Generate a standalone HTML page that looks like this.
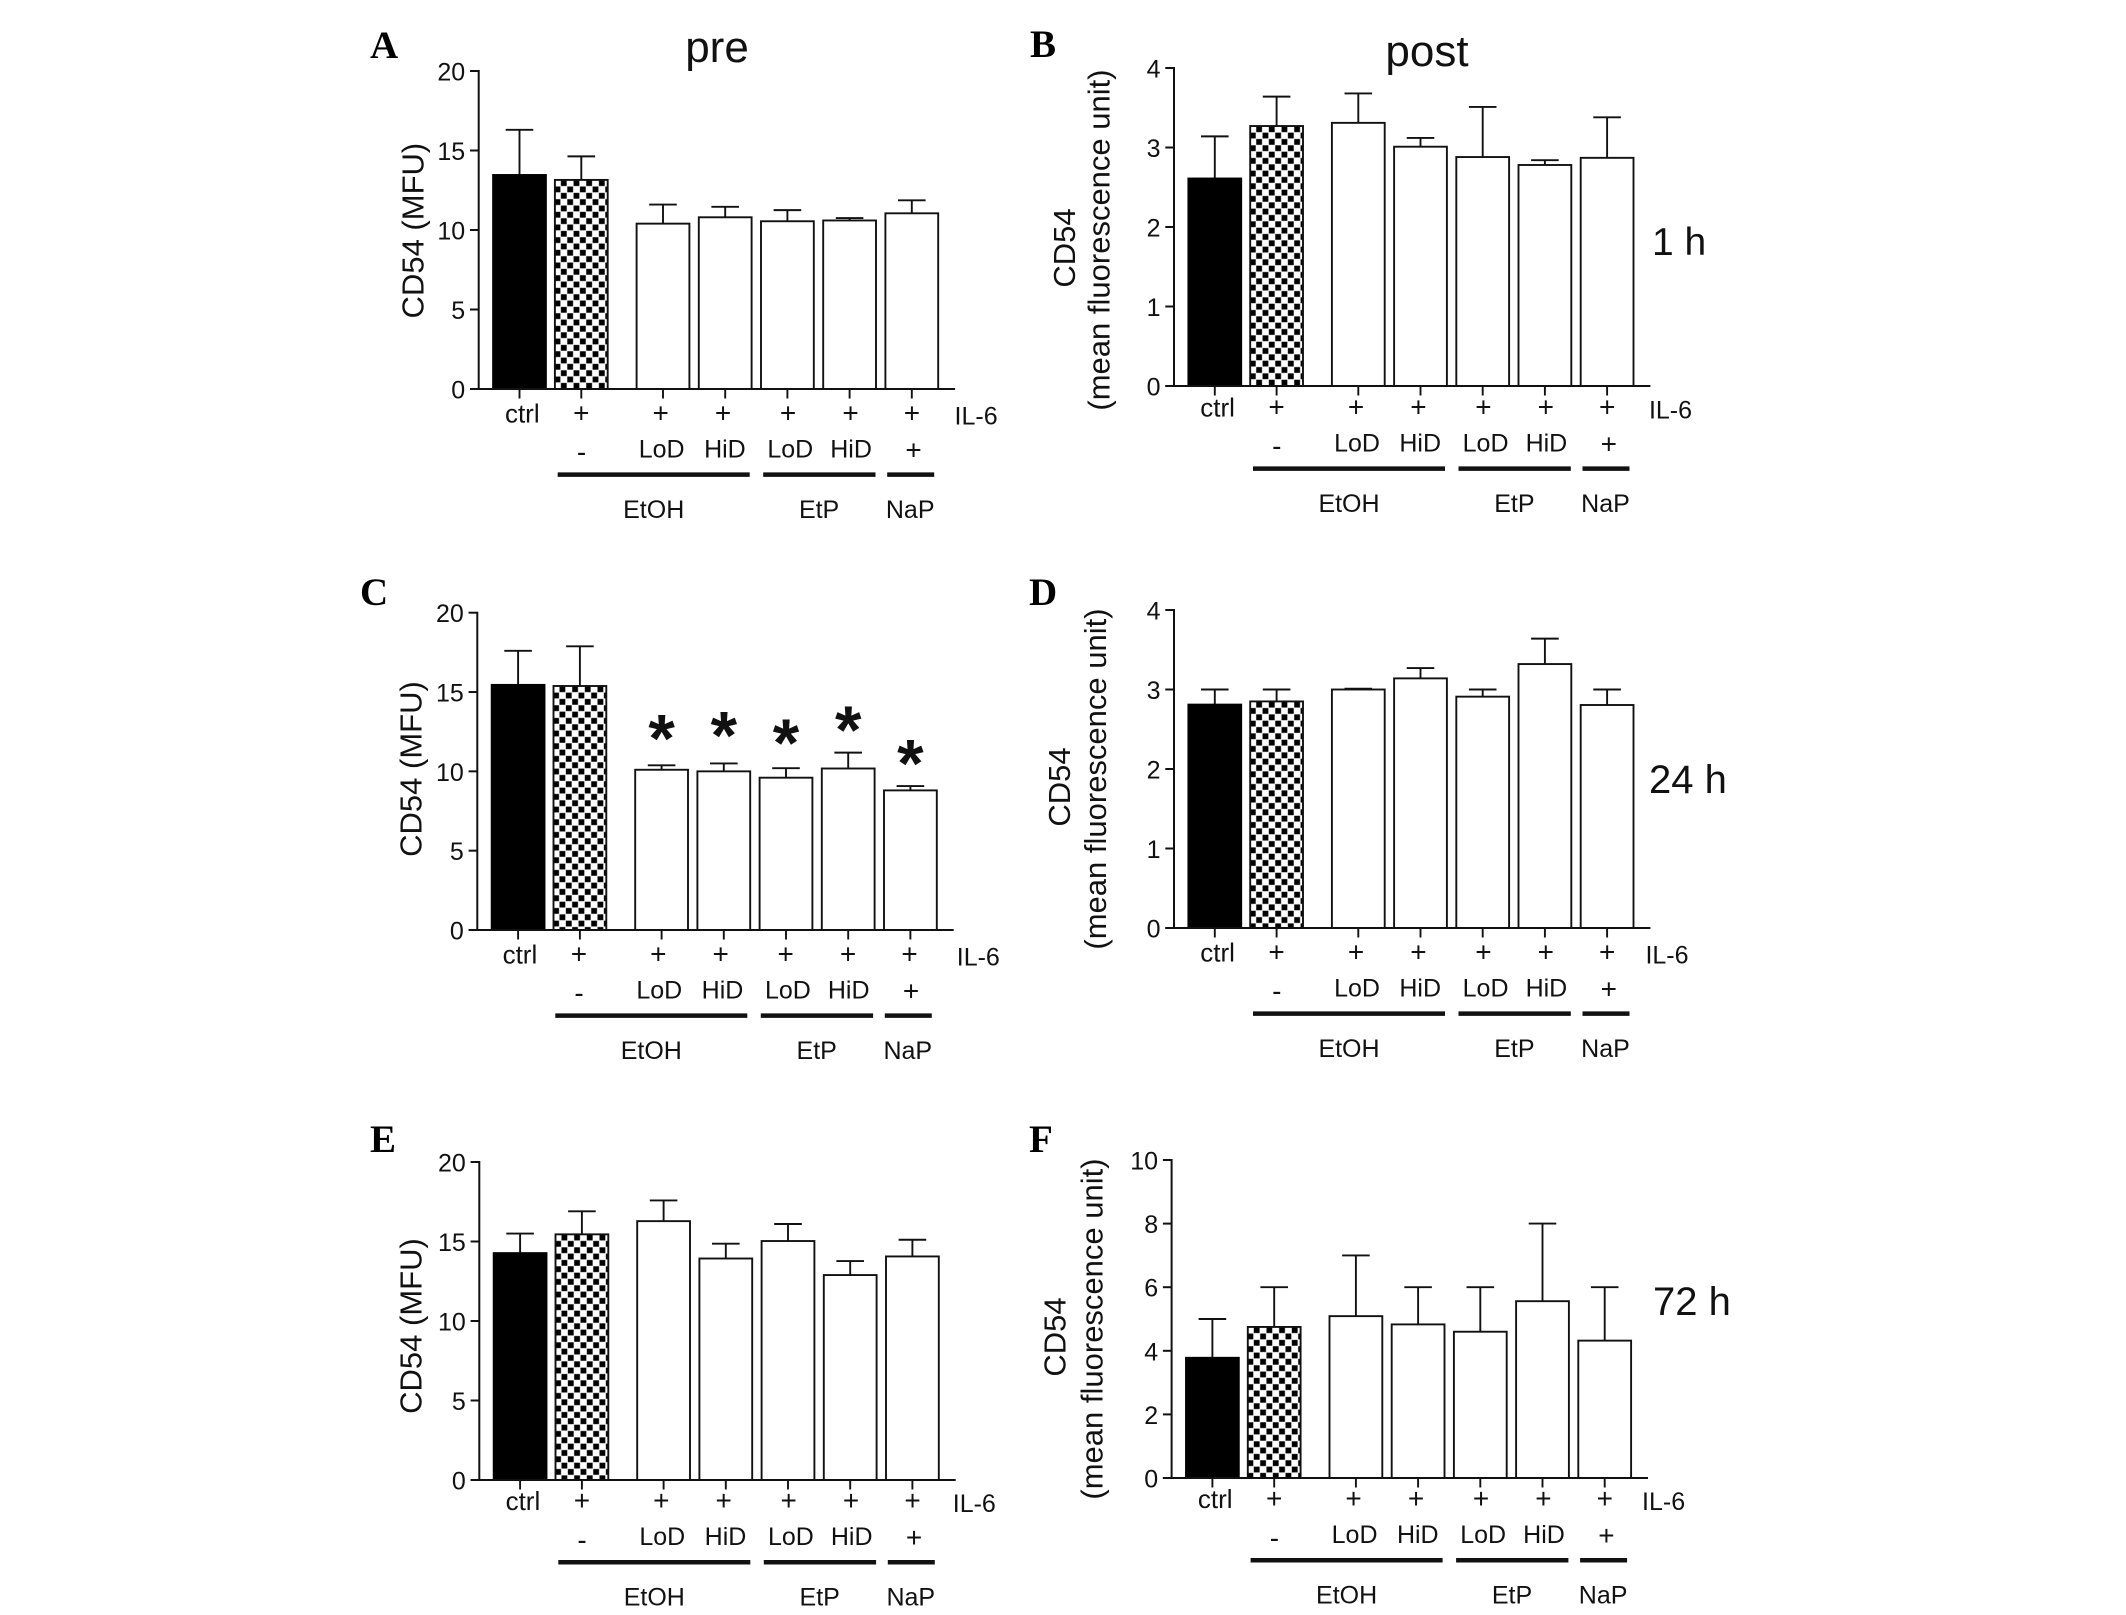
<!DOCTYPE html>
<html lang="en">
<head>
<meta charset="utf-8">
<title>CD54 expression panels</title>
<style>
html,body{margin:0;padding:0;background:#fff;}
svg{display:block;}
text{font-family:"Liberation Sans",Arial,sans-serif;fill:#111;}
.letter{font-family:"Liberation Serif",serif;font-weight:bold;fill:#000;}
</style>
</head>
<body>
<svg id="figure" width="2126" height="1615" viewBox="0 0 2126 1615" xmlns="http://www.w3.org/2000/svg">
<rect x="0" y="0" width="2126" height="1615" fill="#fff"/>
<text class="letter" x="370" y="58" font-size="39">A</text>
<text class="letter" x="1030" y="57" font-size="39">B</text>
<text class="letter" x="360" y="605" font-size="39">C</text>
<text class="letter" x="1029" y="605" font-size="39">D</text>
<text class="letter" x="370" y="1152" font-size="39">E</text>
<text class="letter" x="1029" y="1152" font-size="39">F</text>
<text x="717" y="62" font-size="44" text-anchor="middle">pre</text>
<text x="1427" y="66" font-size="44" text-anchor="middle">post</text>
<text x="1652" y="255" font-size="39">1 h</text>
<text x="1649" y="793" font-size="40">24 h</text>
<text x="1653" y="1315" font-size="40">72 h</text>
</svg>
<script>
// ----- data -----
const categories = ['ctrl', '+', '+', '+', '+', '+', '+'];
const doseLabels = ['', '-', 'LoD', 'HiD', 'LoD', 'HiD', '+'];
const groupLabels = ['EtOH', 'EtP', 'NaP'];

const ticksMfu = [0, 5, 10, 15, 20];
const ticksUnit4 = [0, 1, 2, 3, 4];
const ticksUnit10 = [0, 2, 4, 6, 8, 10];

const meansA = [13.46, 13.15, 10.4, 10.8, 10.55, 10.6, 11.05];
const errTopsA = [16.3, 14.63, 11.6, 11.46, 11.25, 10.75, 11.87];
const meansB = [2.61, 3.27, 3.31, 3.01, 2.88, 2.78, 2.87];
const errTopsB = [3.14, 3.64, 3.68, 3.12, 3.51, 2.84, 3.38];
const meansC = [15.45, 15.38, 10.1, 10.0, 9.6, 10.18, 8.8];
const errTopsC = [17.6, 17.88, 10.38, 10.5, 10.2, 11.18, 9.07];
const starsC = [null, null, 12.55, 12.74, 12.28, 13.07, 10.96];
const meansD = [2.81, 2.85, 3.0, 3.14, 2.91, 3.32, 2.805];
const errTopsD = [3.0, 3.0, 3.01, 3.27, 3.0, 3.64, 3.0];
const meansE = [14.27, 15.45, 16.28, 13.93, 15.03, 12.89, 14.06];
const errTopsE = [15.5, 16.9, 17.58, 14.86, 16.1, 13.77, 15.11];
const meansF = [3.78, 4.75, 5.09, 4.83, 4.6, 5.56, 4.32];
const errTopsF = [5, 6, 7, 6, 6, 8, 6];

// ----- layout (not data) -----
const panels = [
  {id:'a', ox:478.7, oy:389, h:318, max:20, ticks:ticksMfu, means:meansA, errs:errTopsA, stars:null, shift:0, dx:0, il6:497.4, titles:[['CD54 (MFU)', -55, -158.4]]},
  {id:'b', ox:1174, oy:386, h:318, max:4, ticks:ticksUnit4, means:meansB, errs:errTopsB, stars:null, shift:-3, dx:0, il6:496.5, titles:[['CD54', -99, -138], ['(mean fluorescence unit)', -64.6, -146]]},
  {id:'c', ox:477.3, oy:930, h:317.3, max:20, ticks:ticksMfu, means:meansC, errs:errTopsC, stars:starsC, shift:0, dx:-1, il6:501, titles:[['CD54 (MFU)', -56, -161]]},
  {id:'d', ox:1174, oy:928, h:318, max:4, ticks:ticksUnit4, means:meansD, errs:errTopsD, stars:null, shift:0, dx:0, il6:493, titles:[['CD54', -104, -141], ['(mean fluorescence unit)', -68, -149]]},
  {id:'e', ox:479.3, oy:1480, h:318, max:20, ticks:ticksMfu, means:meansE, errs:errTopsE, stars:null, shift:-3.3, dx:0, il6:495, titles:[['CD54 (MFU)', -58, -154]]},
  {id:'f', ox:1171.6, oy:1478, h:318, max:10, ticks:ticksUnit10, means:meansF, errs:errTopsF, stars:null, shift:-3.3, dx:0, il6:492, titles:[['CD54', -106, -141], ['(mean fluorescence unit)', -69.3, -149]]}
];

const NS = 'http://www.w3.org/2000/svg';
const root = document.getElementById('figure');

function mk(parent, tag, attrs, txt) {
  const el = document.createElementNS(NS, tag);
  for (const k in attrs) el.setAttribute(k, attrs[k]);
  if (txt !== undefined) el.textContent = txt;
  parent.appendChild(el);
  return el;
}
function barCenter(p, i) {
  return p.ox + (i < 2 ? 40.8 + 61.8 * i : 184.3 + 62.2 * (i - 2));
}
function yScale(p, v) {
  return p.oy - (v / p.max) * p.h;
}

const defs = mk(root, 'defs', {});

panels.forEach(function (p) {
  const g = mk(root, 'g', {});
  
  

  // checker pattern anchored to the bar's top-left corner
  const patLeft = barCenter(p, 1) - 27;
  const patTop = yScale(p, p.means[1]);
  const pat = mk(defs, 'pattern', {id:'checker-' + p.id, patternUnits:'userSpaceOnUse', x:patLeft, y:patTop, width:12.67, height:12.67});
  mk(pat, 'rect', {x:0, y:0, width:12.67, height:12.67, fill:'#fff'});
  mk(pat, 'rect', {x:6.6, y:0.3, width:5.8, height:5.8, fill:'#000'});
  mk(pat, 'rect', {x:0.3, y:6.6, width:5.8, height:5.8, fill:'#000'});

  // bars and error bars
  p.means.forEach(function (m, i) {
    const c = barCenter(p, i);
    const top = yScale(p, m);
    const errTop = yScale(p, p.errs[i]);

    const errLine = mk(g, 'line', {x1:c, x2:c, y1:top, y2:errTop, stroke:'#111', 'stroke-width':1.9});
    
    

    const errCap = mk(g, 'line', {x1:c - 13.8, x2:c + 13.8, y1:errTop, y2:errTop, stroke:'#111', 'stroke-width':1.9});
    
    

    let fill = '#fff';
    if (i === 0) fill = '#000';
    if (i === 1) fill = 'url(#checker-' + p.id + ')';
    const bar = mk(g, 'rect', {x:c - 26.4, y:top, width:52.8, height:p.oy - top, fill:fill, stroke:i === 0 ? '#000' : '#111', 'stroke-width':1.9});
    
    

    const xTick = mk(g, 'line', {x1:c, x2:c, y1:p.oy, y2:p.oy + 9.5, stroke:'#111', 'stroke-width':1.9});
    
    

    if (p.stars && p.stars[i] !== null) {
      const star = mk(g, 'text', {x:c, y:yScale(p, p.stars[i]) + 30.6, 'font-size':68, 'font-weight':'bold', 'text-anchor':'middle'}, '*');
      
      
    }
  });

  // axes
  const yAxis = mk(g, 'line', {x1:p.ox, x2:p.ox, y1:p.oy - p.h - 1, y2:p.oy + 1, stroke:'#111', 'stroke-width':2});
  
  

  const xAxis = mk(g, 'line', {x1:p.ox - 8.7, x2:p.ox + 476.4, y1:p.oy, y2:p.oy, stroke:'#111', 'stroke-width':2});
  
  

  p.ticks.forEach(function (t) {
    const y = yScale(p, t);
    const tick = mk(g, 'line', {x1:p.ox - 8.7, x2:p.ox, y1:y, y2:y, stroke:'#111', 'stroke-width':2});
    
    

    const lab = mk(g, 'text', {x:p.ox - 13.5, y:y + 9.5, 'font-size':25, 'text-anchor':'end'}, String(t));
    
    
  });

  // y-axis titles
  p.titles.forEach(function (t, k) {
    const tx = p.ox + t[1];
    const ty = p.oy + t[2];
    const title = mk(g, 'text', {x:tx, y:ty, 'font-size':31, 'text-anchor':'middle', transform:'rotate(-90 ' + tx + ' ' + ty + ')'}, t[0]);
    
    
  });

  // category row
  const rowX = p.ox + p.dx;
  const ctrlLabel = mk(g, 'text', {x:rowX + 43.6, y:p.oy + 33.5 + p.shift, 'font-size':26, 'text-anchor':'middle'}, categories[0]);
  
  

  const plusRow = [102.6, 182, 244.4, 309.4, 371.8, 433.2];
  plusRow.forEach(function (px, i) {
    const plus = mk(g, 'text', {x:rowX + px, y:p.oy + 33.3 + p.shift, 'font-size':28, 'text-anchor':'middle'}, categories[i + 1]);
    
    
  });

  const il6 = mk(g, 'text', {x:p.ox + p.il6, y:p.oy + 35.5 + p.shift, 'font-size':25, 'text-anchor':'middle'}, 'IL-6');
  
  

  // dose row
  const doseX = [0, 102.8, 183, 246.2, 311.6, 372.4, 434.8];
  doseLabels.forEach(function (d, i) {
    if (!d) return;
    const isMark = d === '-' || d === '+';
    const baseY = d === '-' ? 72.7 : (d === '+' ? 70.5 : 68.5);
    const dose = mk(g, 'text', {x:rowX + doseX[i], y:p.oy + baseY + p.shift, 'font-size':isMark ? 28 : 25, 'text-anchor':'middle'}, d);
    
    
  });

  // group bars and labels
  const groupBars = [[79, 271], [284.5, 396.8], [408.5, 455.5]];
  const groupX = [175, 340.4, 431.5];
  groupLabels.forEach(function (name, i) {
    const line = mk(g, 'line', {x1:rowX + groupBars[i][0], x2:rowX + groupBars[i][1], y1:p.oy + 85.6 + p.shift, y2:p.oy + 85.6 + p.shift, stroke:'#111', 'stroke-width':4.5});
    
    

    const label = mk(g, 'text', {x:rowX + groupX[i], y:p.oy + 129 + p.shift, 'font-size':25, 'text-anchor':'middle'}, name);
    
    
  });
});
</script>
</body>
</html>
